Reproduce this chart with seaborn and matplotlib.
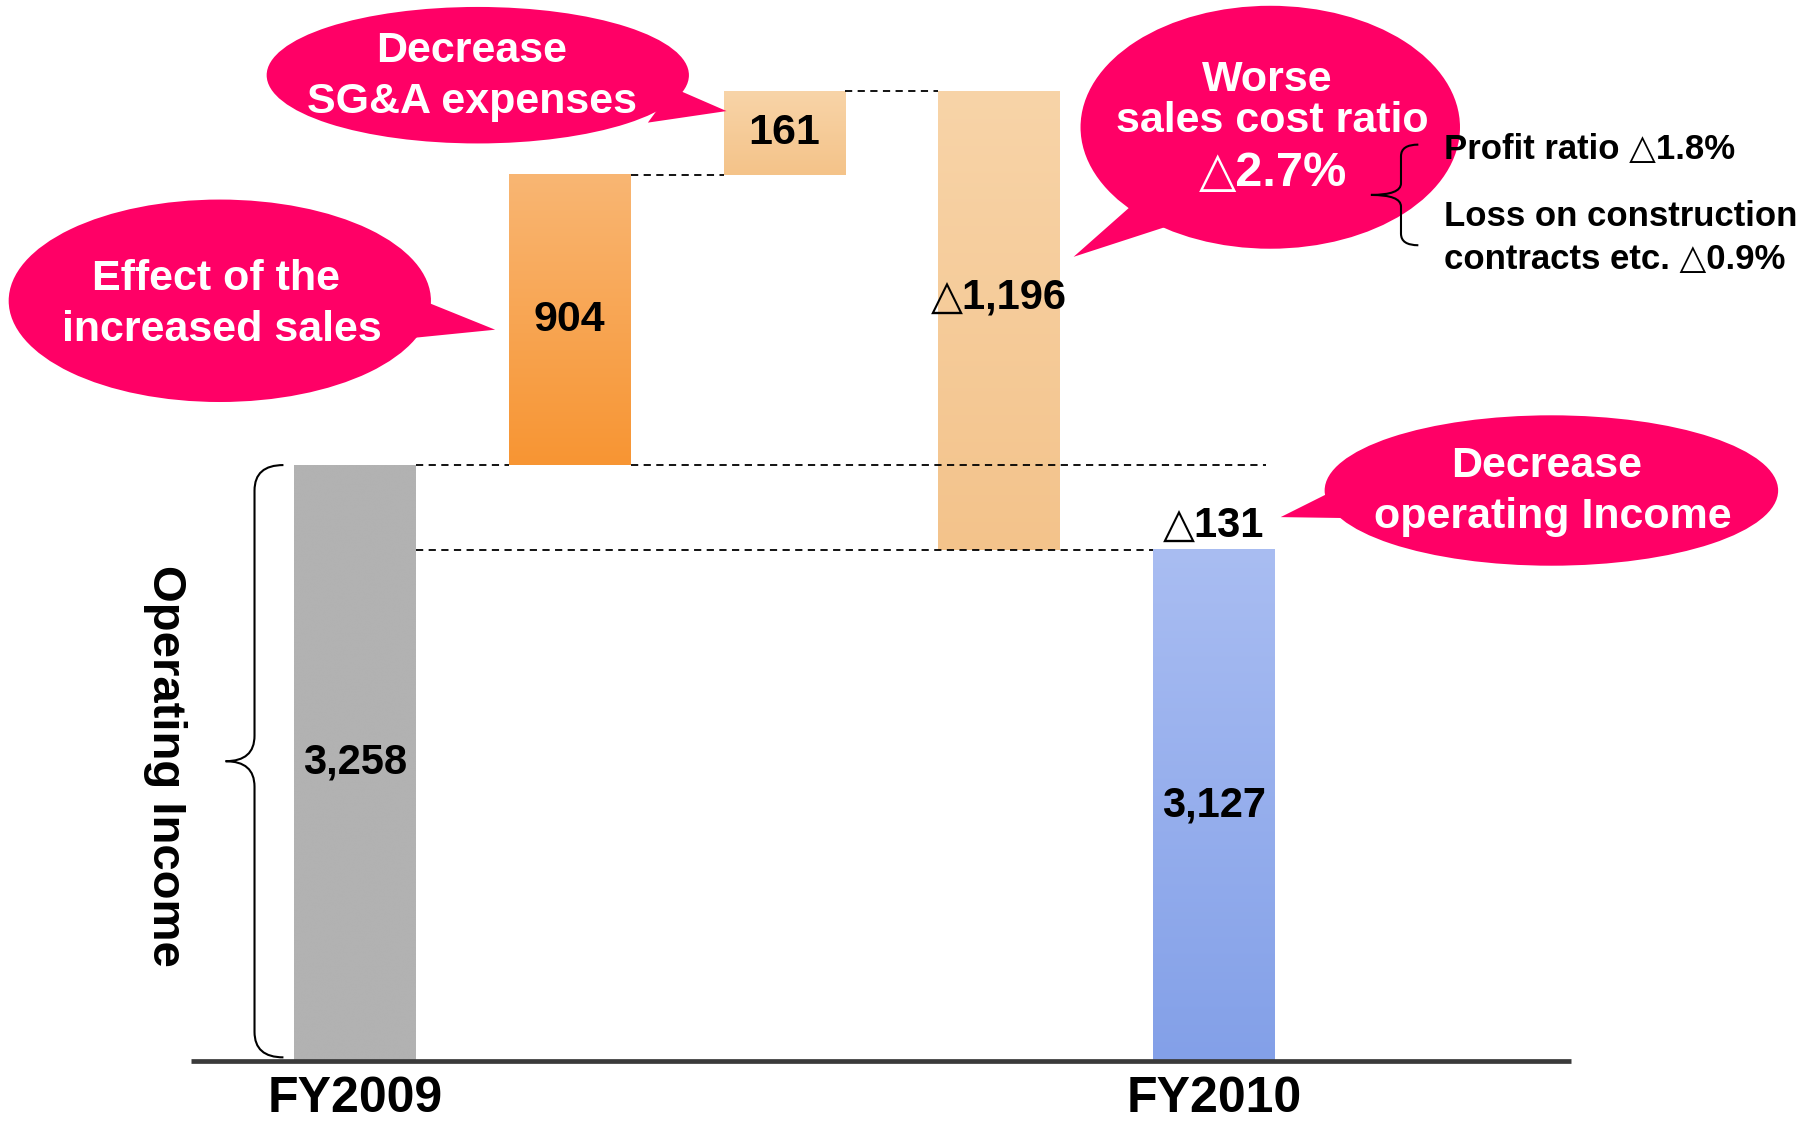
import numpy as np
import pandas as pd
import seaborn as sns
import matplotlib.pyplot as plt
from matplotlib.patches import Ellipse, Polygon, PathPatch
from matplotlib.path import Path
from matplotlib.colors import LinearSegmentedColormap

# data: the drawing is not to scale, so the drawn heights are read off the picture
steps = ['FY2009', 'Sales', 'SG&A', 'Cost ratio', 'FY2010']
value_labels = ['3,258', '904', '161', '\u25b31,196', '3,127']
drawn_steps = [515, 251, 72, -396]
drawn_final = 442
change_label = '\u25b3131'

# colours (top, bottom) of each bar
bar_tops = ['#b2b2b2', '#f9b673', '#f8d4a8', '#f8d4a8', '#a9bdf2']
bar_bottoms = ['#b2b2b2', '#f79533', '#f4c389', '#f3c38b', '#83a0e8']
pink = '#ff0066'

NARROW = ['Liberation Sans Narrow', 'Liberation Sans', 'DejaVu Sans']
WIDE = ['Liberation Sans', 'DejaVu Sans']

sns.set_theme(style='white')
plt.rcParams['font.family'] = WIDE
plt.rcParams['text.color'] = 'black'

cum = np.cumsum(drawn_steps)
heights = list(drawn_steps) + [drawn_final]
bottoms = [0] + list(cum[:-1]) + [0]
df = pd.DataFrame({'step': steps, 'height': heights, 'bottom': bottoms})

fig = plt.figure(figsize=(18.14, 11.21), dpi=100)
ax = fig.add_axes([0, 0, 1, 1])
W = 0.567
sns.barplot(data=df, x='step', y='height', bottom=df['bottom'], color='#b2b2b2',
            width=W, saturation=1, edgecolor='none', linewidth=0, ax=ax)

# gradient fills clipped to each bar
grad = np.linspace(0, 1, 256).reshape(-1, 1)
for p, top, bot in zip(ax.patches, bar_tops, bar_bottoms):
    x0, y0, w, h = p.get_x(), p.get_y(), p.get_width(), p.get_height()
    lo, hi = min(y0, y0 + h), max(y0, y0 + h)
    p.set_facecolor(top)
    cmap = LinearSegmentedColormap.from_list('g', [bot, top])
    ax.imshow(grad, extent=(x0, x0 + w, lo, hi), origin='lower', cmap=cmap,
              aspect='auto', zorder=1.1, interpolation='bicubic')

# connectors
dash = dict(color='black', lw=1.3, ls=(0, (4, 3)), zorder=3)
ax.plot([0 + W / 2, 1 - W / 2], [cum[0]] * 2, **dash)
ax.plot([1 + W / 2, 4 + W / 2 - 0.04], [cum[0]] * 2, **dash)
ax.plot([1 + W / 2, 2 - W / 2], [cum[1]] * 2, **dash)
ax.plot([2 + W / 2, 3 - W / 2], [cum[2]] * 2, **dash)
ax.plot([0 + W / 2, 4 - W / 2], [cum[3]] * 2, **dash)

# baseline
ax.plot([-0.764, 5.662], [0, 0], color='#3a3a3a', lw=3.4, zorder=4, solid_capstyle='butt')

# value labels
for i, (lab, b, h) in enumerate(zip(value_labels, bottoms, heights)):
    mid = b + h / 2
    if i == 3:
        mid += 20
    ax.text(i, mid, lab, ha='center', va='center', fontsize=31 if i in (1, 2) else 30,
            fontweight='bold', family=WIDE, color='black', zorder=5)
ax.text(4, drawn_final + 3, change_label, ha='center', va='bottom', fontsize=30,
        fontweight='bold', family=WIDE, color='black', zorder=5)

for i in (0, 4):
    ax.text(i, -33, steps[i], ha='center', va='center', fontsize=36,
            fontweight='bold', family=WIDE, color='black')

ax.set_xlim(-1.6526, 6.7934)
ax.set_ylim(-52, 917)
ax.axis('off')

# annotation layer in picture pixels
ov = fig.add_axes([0, 0, 1, 1])
ov.set_xlim(0, 1568)
ov.set_ylim(969, 0)
ov.axis('off')
ov.patch.set_alpha(0)


def bubble(cx, cy, w, h, base, tip):
    ov.add_patch(Ellipse((cx, cy), w, h, facecolor=pink, edgecolor='none'))
    ov.add_patch(Polygon([base[0], tip, base[1]], closed=True, facecolor=pink, edgecolor='none'))


bubble(413, 65, 365, 118, [(582, 76), (560, 106)], (628, 96))
bubble(190, 260, 365, 175, [(371, 262), (358, 292)], (428, 285))
bubble(1098, 110, 328, 210, [(980, 176), (1008, 196)], (928, 222))
bubble(1341, 424, 392, 130, [(1153, 424), (1176, 448)], (1107, 447))

wt = dict(color='white', fontweight='bold', ha='center', va='center')
ov.text(408, 44, 'Decrease', fontsize=31, family=NARROW, **wt)
ov.text(408, 88, 'SG&A expenses', fontsize=31, family=NARROW, **wt)
ov.text(187, 241, 'Effect of the', fontsize=31, family=NARROW, **wt)
ov.text(192, 285, 'increased sales', fontsize=31, family=NARROW, **wt)
ov.text(1095, 69, 'Worse', fontsize=31, family=NARROW, **wt)
ov.text(1100, 105, 'sales cost ratio', fontsize=31, family=NARROW, **wt)
ov.text(1100, 150, '\u25b32.7%', fontsize=35, family=NARROW, **wt)
ov.text(1337, 403, 'Decrease', fontsize=31, family=WIDE, **wt)
ov.text(1342, 447, 'operating Income', fontsize=31, family=WIDE, **wt)

bt = dict(color='black', ha='left', va='center', family=NARROW, fontweight='bold')
ov.text(1248, 129, 'Profit ratio \u25b31.8%', fontsize=25, **bt)
ov.text(1248, 187, 'Loss on construction', fontsize=25, **bt)
ov.text(1248, 224, 'contracts etc. \u25b30.9%', fontsize=25, **bt)


def brace(xe, xv, xt, y0, y1, r):
    ym = (y0 + y1) / 2
    verts = [(xe, y0), (xv, y0), (xv, y0 + r), (xv, ym - r), (xv, ym), (xt, ym),
             (xv, ym), (xv, ym + r), (xv, y1 - r), (xv, y1), (xe, y1)]
    codes = [Path.MOVETO, Path.CURVE3, Path.CURVE3, Path.LINETO, Path.CURVE3, Path.CURVE3,
             Path.CURVE3, Path.CURVE3, Path.LINETO, Path.CURVE3, Path.CURVE3]
    ov.add_patch(PathPatch(Path(verts, codes), facecolor='none', edgecolor='black', lw=1.5))


brace(245, 220, 195, 402, 914, 22)
brace(1226, 1211, 1185, 125, 212, 10)

ov.text(143, 662, 'Operating Income', rotation=-90, ha='center', va='center',
        fontsize=34, fontweight='bold', family=WIDE, color='black')

fig.savefig('out.png', dpi=100)
